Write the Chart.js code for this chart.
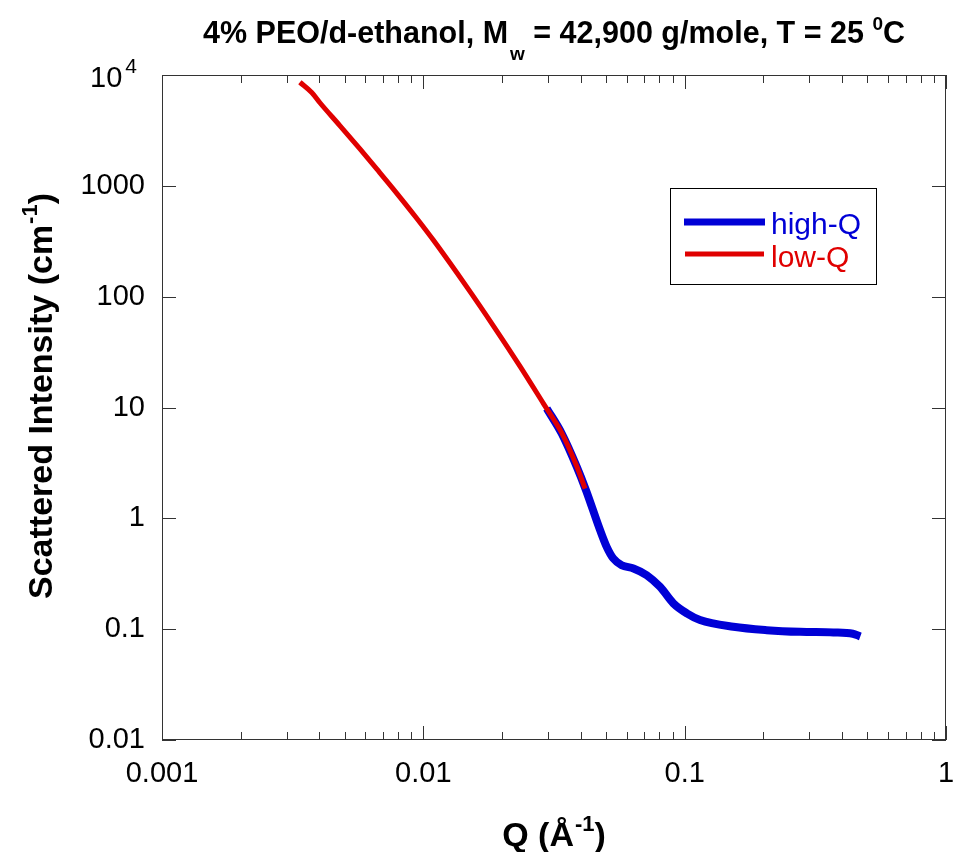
<!DOCTYPE html>
<html>
<head>
<meta charset="utf-8">
<title>PEO / d-ethanol SANS</title>
<script src="https://cdn.jsdelivr.net/npm/chart.js@4.4.1/dist/chart.umd.min.js"></script>
<style>
  html, body { margin: 0; padding: 0; background: #fff; }
  #wrap { width: 954px; height: 852px; }
</style>
</head>
<body>
<div id="wrap"><canvas id="chart" width="954" height="852"></canvas></div>
<script>
// Values: Q in 1/Å, scattered intensity in 1/cm
const lowQ_q = [0.00337, 0.00374, 0.00402, 0.0048, 0.00572, 0.00663, 0.00768, 0.00943, 0.01092, 0.01466, 0.01853, 0.02345, 0.02878, 0.03385, 0.03864, 0.0416];
const lowQ_I = [8600, 6950, 5620, 3480, 2150, 1420, 935, 510, 324, 122.5, 54.6, 23.5, 10.9, 5.9, 2.95, 1.85];

const highQ_q = [0.02966, 0.03385, 0.03864, 0.0419, 0.04746, 0.0503, 0.0533, 0.0574, 0.0637, 0.0716, 0.0805, 0.0905, 0.1019, 0.1145, 0.1536, 0.206, 0.2764, 0.3707, 0.44, 0.47];
const highQ_I = [9.8, 5.83, 2.92, 1.8, 0.782, 0.553, 0.435, 0.378, 0.353, 0.307, 0.241, 0.171, 0.139, 0.121, 0.105, 0.098, 0.0946, 0.0935, 0.091, 0.086];

const xTickValues = [0.001, 0.01, 0.1, 1];
const xTickLabels = ['0.001', '0.01', '0.1', '1'];
const yTickValues = [0.01, 0.1, 1, 10, 100, 1000, 10000];
const yTickLabels = ['0.01', '0.1', '1', '10', '100', '1000', '']; // 10^4 is drawn below, with its superscript

const BLUE = '#0000d6';
const RED = '#e00000';
const AXIS = '#333';
const FONT = '"Liberation Sans", Arial, sans-serif';

// draw a line of text made of runs (for sub/superscripts)
function drawRuns(ctx, runs, x, y, align) {
    let total = 0;
    runs.forEach(r => {
        ctx.font = (r.bold ? 'bold ' : '') + r.size + 'px ' + FONT;
        r.w = ctx.measureText(r.t).width + (r.gap || 0);
        total += r.w;
    });
    let cx = align === 'center' ? x - total / 2 : align === 'right' ? x - total : x;
    runs.forEach(r => {
        ctx.font = (r.bold ? 'bold ' : '') + r.size + 'px ' + FONT;
        ctx.fillText(r.t, cx + (r.gap || 0), y + (r.dy || 0));
        cx += r.w;
    });
}

// frame, inside ticks, titles and legend
const decorPlugin = {
    id: 'decor',
    beforeDatasetsDraw(chart) {
        const { ctx, chartArea: a, scales: { x, y } } = chart;
        ctx.save();
        ctx.strokeStyle = AXIS;
        ctx.lineWidth = 1;
        ctx.strokeRect(a.left + 0.5, a.top + 0.5, a.right - a.left - 1, a.bottom - a.top - 1);

        ctx.beginPath();
        for (let d = -3; d <= 0; d++) {
            for (let m = 1; m <= 9; m++) {
                const v = m * Math.pow(10, d);
                if (v > 1.0001) break;
                const px = Math.round(x.getPixelForValue(v)) + 0.5;
                const len = m === 1 ? 14 : 8;
                ctx.moveTo(px, a.bottom); ctx.lineTo(px, a.bottom - len);
                ctx.moveTo(px, a.top); ctx.lineTo(px, a.top + len);
            }
        }
        yTickValues.forEach(v => {
            const py = Math.round(y.getPixelForValue(v)) + 0.5;
            ctx.moveTo(a.left, py); ctx.lineTo(a.left + 14, py);
            ctx.moveTo(a.right, py); ctx.lineTo(a.right - 14, py);
        });
        ctx.stroke();
        ctx.restore();
    },
    afterDraw(chart) {
        const { ctx, chartArea: a, scales: { y } } = chart;
        const midX = (a.left + a.right) / 2;
        ctx.save();
        ctx.fillStyle = '#000';
        ctx.textBaseline = 'alphabetic';

        // chart title
        drawRuns(ctx, [
            { t: '4% PEO/d-ethanol, M', size: 30.5, bold: true },
            { t: 'w', size: 19, bold: true, dy: 17, gap: 2 },
            { t: ' = 42,900 g/mole, T = 25 ', size: 30.5, bold: true },
            { t: '0', size: 19, bold: true, dy: -13 },
            { t: 'C', size: 30.5, bold: true }
        ], midX, 43, 'center');

        // x axis title
        drawRuns(ctx, [
            { t: 'Q (Å', size: 34, bold: true },
            { t: '-1', size: 22, bold: true, dy: -15, gap: 1 },
            { t: ')', size: 34, bold: true }
        ], midX, 846, 'center');

        // y axis title
        ctx.save();
        ctx.translate(52, 396);
        ctx.rotate(-Math.PI / 2);
        drawRuns(ctx, [
            { t: 'Scattered Intensity (cm', size: 34, bold: true },
            { t: '-1', size: 22, bold: true, dy: -15, gap: 1 },
            { t: ')', size: 34, bold: true }
        ], 0, 0, 'center');
        ctx.restore();

        // 10^4 tick label
        const py = y.getPixelForValue(10000);
        drawRuns(ctx, [
            { t: '10', size: 29 },
            { t: '4', size: 21, dy: -14, gap: 3 }
        ], a.left - 25, py + 12, 'right');

        // legend
        const lx = 670, ly = 188, lw = 206, lh = 96;
        ctx.strokeStyle = '#000';
        ctx.lineWidth = 1;
        ctx.strokeRect(lx + 0.5, ly + 0.5, lw, lh);
        ctx.lineCap = 'butt';
        ctx.strokeStyle = BLUE; ctx.lineWidth = 7;
        ctx.beginPath(); ctx.moveTo(684, 222); ctx.lineTo(765, 222); ctx.stroke();
        ctx.strokeStyle = RED; ctx.lineWidth = 5;
        ctx.beginPath(); ctx.moveTo(685, 254); ctx.lineTo(764, 254); ctx.stroke();
        ctx.font = '30px ' + FONT;
        ctx.textAlign = 'left';
        ctx.fillStyle = BLUE; ctx.fillText('high-Q', 771, 234);
        ctx.fillStyle = RED; ctx.fillText('low-Q', 771, 267);
        ctx.restore();
    }
};

const lowQData = lowQ_q.map((q, i) => ({ x: q, y: lowQ_I[i] }));
const highQData = highQ_q.map((q, i) => ({ x: q, y: highQ_I[i] }));

new Chart(document.getElementById('chart'), {
    type: 'line',
    data: {
        datasets: [
            { label: 'low-Q', data: lowQData, borderColor: RED, borderWidth: 5, pointRadius: 0, fill: false,
              cubicInterpolationMode: 'monotone', borderCapStyle: 'butt', borderJoinStyle: 'round' },
            { label: 'high-Q', data: highQData, borderColor: BLUE, borderWidth: 8, pointRadius: 0, fill: false,
              cubicInterpolationMode: 'monotone', borderCapStyle: 'butt', borderJoinStyle: 'round' }
        ]
    },
    options: {
        responsive: false,
        animation: false,
        devicePixelRatio: 1,
        layout: { padding: { top: 75, right: 8, left: 0, bottom: 0 } },
        plugins: { legend: { display: false }, tooltip: { enabled: false }, title: { display: false } },
        scales: {
            x: {
                type: 'logarithmic', min: 0.001, max: 1,
                grid: { display: false, drawTicks: false },
                border: { display: false },
                afterBuildTicks: s => { s.ticks = xTickValues.map(v => ({ value: v })); },
                afterFit: s => { s.height = 112; s.paddingLeft = 0; s.paddingRight = 0; },
                ticks: { color: '#000', font: { family: FONT, size: 29 }, padding: 17, maxRotation: 0, autoSkip: false,
                         callback: (v, i) => xTickLabels[i] }
            },
            y: {
                type: 'logarithmic', min: 0.01, max: 10000,
                grid: { display: false, drawTicks: false },
                border: { display: false },
                afterBuildTicks: s => { s.ticks = yTickValues.map(v => ({ value: v })); },
                afterFit: s => { s.width = 162; s.paddingTop = 0; s.paddingBottom = 0; },
                ticks: { color: '#000', font: { family: FONT, size: 29 }, padding: 17, autoSkip: false,
                         callback: (v, i) => yTickLabels[i] }
            }
        }
    },
    plugins: [decorPlugin]
});
</script>
</body>
</html>
